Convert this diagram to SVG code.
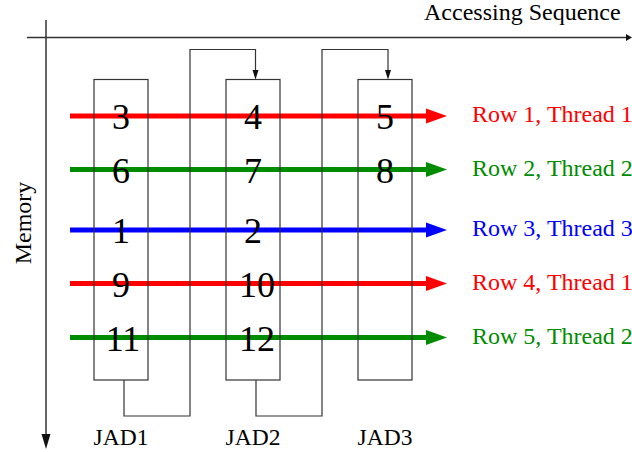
<svg xmlns="http://www.w3.org/2000/svg" width="632" height="452" viewBox="0 0 632 452">
  <style>
    text { font-family: "Liberation Serif", "Times New Roman", serif; }
    .axis { stroke: #333; stroke-width: 1.5; fill: none; }
    .box { stroke: #333; stroke-width: 1.2; fill: none; }
    .link { stroke: #333; stroke-width: 1.2; fill: none; }
    .head { fill: #111; }
    .num { font-size: 36px; fill: #000; text-anchor: middle; }
    .lbl { font-size: 24px; fill: #000; }
    .jad { font-size: 23.5px; fill: #000; text-anchor: middle; }
    .row { stroke-width: 5; fill: none; }
    .red { stroke: #ff0000; }
    .green { stroke: #008c00; }
    .blue { stroke: #0000ff; }
    .fred { fill: #ff0000; }
    .fgreen { fill: #008c00; }
    .fblue { fill: #0000ff; }
  </style>

  <!-- axes -->
  <g id="axes">
    <line class="axis" x1="27" y1="37.5" x2="627" y2="37.5"/>
    <polygon class="head" points="626,34 632,37.5 626,41"/>
    <text class="lbl" x="424" y="20">Accessing Sequence</text>
    <line class="axis" x1="46" y1="20" x2="46" y2="436"/>
    <polygon class="head" points="41.5,434 50.5,434 46,449"/>
    <text class="lbl" text-anchor="middle" transform="translate(31,223) rotate(-90)">Memory</text>
  </g>

  <!-- row accesses, one thread each -->
  <g id="row1">
    <line class="row red" x1="70" y1="116" x2="428" y2="116"/>
    <polygon class="fred" points="426,108.5 447,116 426,123.5"/>
    <text class="lbl" x="472" y="122" style="fill:#ff0000">Row 1, Thread 1</text>
  </g>
  <g id="row2">
    <line class="row green" x1="70" y1="169.5" x2="428" y2="169.5"/>
    <polygon class="fgreen" points="426,162 447,169.5 426,177"/>
    <text class="lbl" x="472" y="175.5" style="fill:#008c00">Row 2, Thread 2</text>
  </g>
  <g id="row3">
    <line class="row blue" x1="70" y1="230" x2="428" y2="230"/>
    <polygon class="fblue" points="426,222.5 447,230 426,237.5"/>
    <text class="lbl" x="472" y="236" style="fill:#0000ff">Row 3, Thread 3</text>
  </g>
  <g id="row4">
    <line class="row red" x1="70" y1="283.5" x2="428" y2="283.5"/>
    <polygon class="fred" points="426,276 447,283.5 426,291"/>
    <text class="lbl" x="472" y="289.5" style="fill:#ff0000">Row 4, Thread 1</text>
  </g>
  <g id="row5">
    <line class="row green" x1="70" y1="337.5" x2="428" y2="337.5"/>
    <polygon class="fgreen" points="426,330 447,337.5 426,345"/>
    <text class="lbl" x="472" y="343.5" style="fill:#008c00">Row 5, Thread 2</text>
  </g>

  <!-- JAD columns -->
  <g id="jad1">
    <rect class="box" x="94" y="79.5" width="54" height="300.5"/>
    <text class="num" x="121" y="129">3</text>
    <text class="num" x="121" y="182.5">6</text>
    <text class="num" x="121" y="243">1</text>
    <text class="num" x="121" y="296.5">9</text>
    <text class="num" x="123" y="350.5">11</text>
    <text class="jad" x="121" y="445">JAD1</text>
  </g>
  <g id="jad2">
    <rect class="box" x="226" y="79.5" width="54" height="300.5"/>
    <text class="num" x="253" y="129">4</text>
    <text class="num" x="253" y="182.5">7</text>
    <text class="num" x="253" y="243">2</text>
    <text class="num" x="257" y="296.5">10</text>
    <text class="num" x="257" y="350.5">12</text>
    <text class="jad" x="253" y="445">JAD2</text>
  </g>
  <g id="jad3">
    <rect class="box" x="358" y="79.5" width="54" height="300.5"/>
    <text class="num" x="385" y="129">5</text>
    <text class="num" x="385" y="182.5">8</text>
    <text class="jad" x="385" y="445">JAD3</text>
  </g>

  <!-- links from the end of one column to the start of the next -->
  <g id="connectors">
    <polyline class="link" points="124,380 124,416 190,416 190,49.5 255.5,49.5 255.5,71"/>
    <polygon class="head" points="252.5,70 258.5,70 255.5,79.5"/>
    <polyline class="link" points="256,380 256,416 322,416 322,49.5 388,49.5 388,71"/>
    <polygon class="head" points="385,70 391,70 388,79.5"/>
  </g>
</svg>
